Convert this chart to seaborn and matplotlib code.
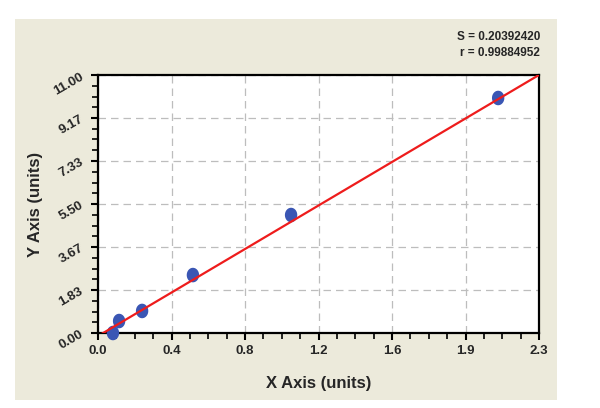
import numpy as np
import pandas as pd
import matplotlib
matplotlib.use("Agg")
import matplotlib.pyplot as plt
from matplotlib.patches import Rectangle
from matplotlib.ticker import AutoMinorLocator
import seaborn as sns

# standard points
x_vals = [0.078, 0.11, 0.23, 0.495, 1.007, 2.087]
y_vals = [0.0, 0.51, 0.94, 2.47, 5.03, 10.02]

# fitted line
fit_slope = 4.84
fit_intercept = -0.13

x_ticks = [0.0, 2.3 / 6, 2 * 2.3 / 6, 3 * 2.3 / 6, 4 * 2.3 / 6, 5 * 2.3 / 6, 2.3]
x_tick_labels = ["0.0", "0.4", "0.8", "1.2", "1.6", "1.9", "2.3"]
y_ticks = [0.0, 11 / 6, 22 / 6, 33 / 6, 44 / 6, 55 / 6, 11.0]
y_tick_labels = ["0.00", "1.83", "3.67", "5.50", "7.33", "9.17", "11.00"]

stats_text = "S = 0.20392420\nr = 0.99884952"


def main():
    sns.set_style("white")
    plt.rcParams["font.family"] = ["Liberation Sans", "DejaVu Sans"]
    plt.rcParams["font.weight"] = "bold"

    fig = plt.figure(figsize=(6, 4.08), dpi=100, facecolor="white")
    # beige panel behind the plot
    fig.patches.append(Rectangle((15 / 600, 1 - 400 / 408), 542 / 600, 381 / 408,
                                 transform=fig.transFigure, facecolor="#ECEADB",
                                 edgecolor="none", zorder=-1))

    ax = fig.add_axes([98 / 600, 1 - 333 / 408, 441 / 600, 258 / 408])
    ax.set_facecolor("white")

    df = pd.DataFrame({"x": x_vals, "y": y_vals})
    line_x = np.linspace(0, 2.3, 50)
    line_df = pd.DataFrame({"x": line_x, "y": fit_slope * line_x + fit_intercept})

    # slightly tall oval marker, like the original
    t = np.linspace(0, 2 * np.pi, 40)
    oval = np.column_stack([0.85 * np.cos(t), np.sin(t)])

    sns.scatterplot(data=df, x="x", y="y", ax=ax, s=110, color="#3A56B4",
                    marker=oval, edgecolor="none", zorder=3, clip_on=False)
    sns.lineplot(data=line_df, x="x", y="y", ax=ax, color="#EE1C1C",
                 linewidth=1.6, zorder=4)

    ax.set_xlim(0, 2.3)
    ax.set_ylim(0, 11)
    ax.set_xticks(x_ticks)
    ax.set_xticklabels(x_tick_labels)
    ax.set_yticks(y_ticks)
    ax.set_yticklabels(y_tick_labels, rotation=30)
    ax.xaxis.set_minor_locator(AutoMinorLocator(4))
    ax.yaxis.set_minor_locator(AutoMinorLocator(4))

    ax.tick_params(axis="both", which="major", direction="out", length=5,
                   width=1.5, labelsize=9.5, color="black", pad=4,
                   bottom=True, left=True)
    ax.tick_params(axis="both", which="minor", direction="out", length=4,
                   width=1.2, color="black", bottom=True, left=True)
    for lab in ax.get_xticklabels() + ax.get_yticklabels():
        lab.set_fontweight("bold")

    ax.grid(True, which="major", linestyle=(0, (6, 4)), color="#BDBDBD",
            linewidth=0.9)
    for side in ["left", "bottom", "right", "top"]:
        ax.spines[side].set_visible(True)
        ax.spines[side].set_color("black")
        ax.spines[side].set_linewidth(1.6)

    ax.set_xlabel("X Axis (units)", fontsize=12, fontweight="bold", labelpad=13)
    ax.set_ylabel("Y Axis (units)", fontsize=12, fontweight="bold", labelpad=6)

    fig.text(540 / 600, 1 - 45 / 408, stats_text, ha="right", va="center",
             fontsize=8.5, fontweight="bold", linespacing=1.5)

    plt.savefig("out.png", dpi=100, facecolor="white")
    plt.close()


if __name__ == "__main__":
    main()
